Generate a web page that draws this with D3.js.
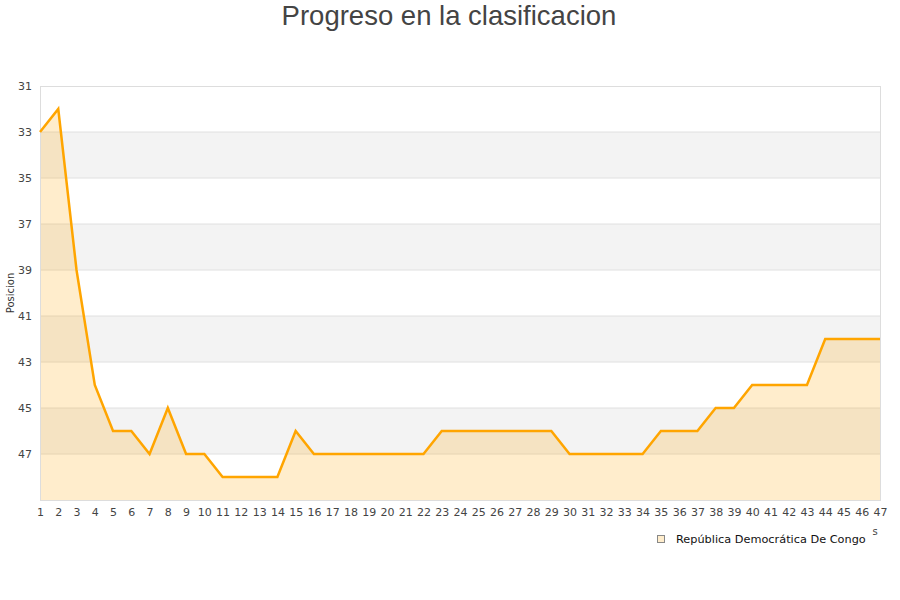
<!DOCTYPE html>
<html><head><meta charset="utf-8">
<script src="https://cdn.jsdelivr.net/npm/d3@7"></script>
<style>body{margin:0;background:#fff;}svg{display:block;}</style>
</head><body><svg id="c" width="900" height="600"></svg>
<script>
const jornadas = d3.range(1, 48);
const posiciones = [33,32,39,44,46,46,47,45,47,47,48,48,48,48,46,47,47,47,47,47,47,47,46,46,46,46,46,46,46,47,47,47,47,47,46,46,46,45,45,44,44,44,44,42,42,42,42];
const yTicks = [31,33,35,37,39,41,43,45,47];
const bands = [[33,35],[37,39],[41,43],[45,47]];
const title = "Progreso en la clasificacion";
const seriesName = "República Democrática De Congo";
const yTitle = "Posicion";

const svg = d3.select("#c");
const L = 40, R = 880, T = 86, B = 500;
const x = d3.scaleLinear().domain([1, 47]).range([L, R]);
const y = d3.scaleLinear().domain([31, 49]).range([T, B]);

svg.append("text").attr("x", 449).attr("y", 25).attr("text-anchor", "middle")
  .attr("font-family", "Liberation Sans, Arial, sans-serif").attr("font-size", 27.5)
  .attr("fill", "#444").text(title);

svg.selectAll("rect.band").data(bands).enter().append("rect")
  .attr("x", L).attr("width", R - L)
  .attr("y", d => y(d[0])).attr("height", d => y(d[1]) - y(d[0]))
  .attr("fill", "#f3f3f3");

svg.selectAll("line.grid").data(yTicks.slice(1)).enter().append("line")
  .attr("x1", L).attr("x2", R).attr("y1", d => y(d)).attr("y2", d => y(d))
  .attr("stroke", "#e0e0e0").attr("stroke-width", 1);

const data = jornadas.map((j, i) => [j, posiciones[i]]);
svg.append("path").datum(data)
  .attr("d", d3.area().x(d => x(d[0])).y0(y(49)).y1(d => y(d[1])))
  .attr("fill", "#FFA500").attr("fill-opacity", 0.2);

svg.append("rect").attr("x", L + 0.5).attr("y", T + 0.5).attr("width", R - L).attr("height", B - T)
  .attr("fill", "none").attr("stroke", "#ddd");

svg.append("path").datum(data)
  .attr("d", d3.line().x(d => x(d[0])).y(d => y(d[1])))
  .attr("fill", "none").attr("stroke", "#FFA500").attr("stroke-width", 2.5)
  .attr("stroke-linejoin", "miter");

const font = "DejaVu Sans, Verdana, sans-serif";
const yAxis = svg.append("g").attr("transform", `translate(${L},0)`)
  .call(d3.axisLeft(y).tickValues(yTicks).tickSize(0).tickPadding(8));
yAxis.select(".domain").remove();
yAxis.selectAll("text").attr("font-family", font).attr("font-size", 11).attr("fill", "#444");

const xAxis = svg.append("g").attr("transform", `translate(0,${B})`)
  .call(d3.axisBottom(x).tickValues(jornadas).tickFormat(d3.format("d")).tickSize(0).tickPadding(8));
xAxis.select(".domain").remove();
xAxis.selectAll("text").attr("font-family", font).attr("font-size", 11).attr("fill", "#444");

svg.append("text").attr("transform", "translate(14,293) rotate(-90)").attr("text-anchor", "middle")
  .attr("font-family", font).attr("font-size", 10).attr("fill", "#333").text(yTitle);

svg.append("text").attr("x", 875).attr("y", 535).attr("text-anchor", "middle")
  .attr("font-family", font).attr("font-size", 10).attr("fill", "#444").text("s");

svg.append("rect").attr("x", 657.5).attr("y", 535.5).attr("width", 7).attr("height", 7)
  .attr("fill", "#FFA500").attr("fill-opacity", 0.2).attr("stroke", "#888").attr("stroke-width", 1);
svg.append("text").attr("x", 676).attr("y", 543)
  .attr("font-family", font).attr("font-size", 11.3).attr("fill", "#111").text(seriesName);
</script></body></html>
